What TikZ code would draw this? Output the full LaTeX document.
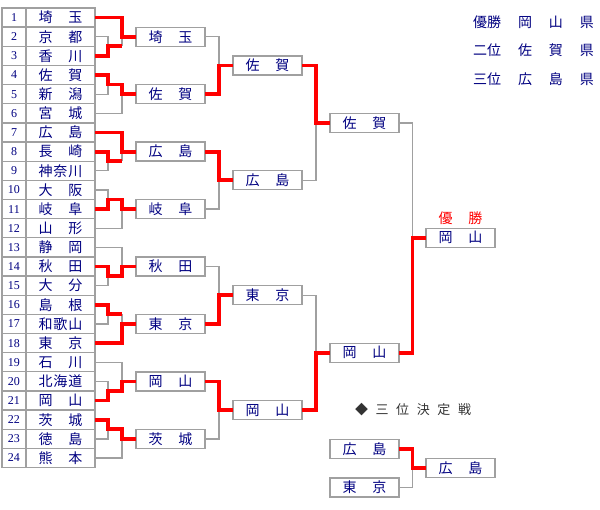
\documentclass[tikz,border=0pt]{standalone}
\usepackage{fontspec}
\setmainfont{Liberation Serif}
\newfontfamily\jpfont{Noto Sans CJK JP}
\usetikzlibrary{calc,positioning}
\definecolor{tnavy}{RGB}{0,0,128}
\definecolor{tgray}{RGB}{160,160,160}
\definecolor{tred}{RGB}{255,0,0}
\definecolor{tdark}{RGB}{51,51,51}
\newcommand{\kname}[1]{\makebox[44pt][s]{#1}}

\begin{document}
\begin{tikzpicture}[x=1pt, y=-1pt,
  cell/.style={draw=tgray, line width=1.3pt, inner sep=0pt, outer sep=0pt, minimum height=19.15pt},
  numcell/.style={cell, minimum width=24pt, font=\fontsize{12}{12}\selectfont, text=tnavy},
  namecell/.style={cell, minimum width=69pt, font=\jpfont\fontsize{14}{14}\selectfont, text=tnavy},
  team/.style={namecell, minimum height=19pt},
  jptext/.style={font=\jpfont\fontsize{14}{14}\selectfont, inner sep=0pt},
  lose/.style={draw=tgray, line width=1.3pt},
  win/.style={draw=tred, line width=3.8pt}]
\useasboundingbox (0,0) rectangle (600,510);

% entry table
\foreach \i/\nm in {1/埼\hfill 玉, 2/京\hfill 都, 3/香\hfill 川, 4/佐\hfill 賀, 5/新\hfill 潟, 6/宮\hfill 城,
  7/広\hfill 島, 8/長\hfill 崎, 9/神\hfill 奈\hfill 川, 10/大\hfill 阪, 11/岐\hfill 阜, 12/山\hfill 形,
  13/静\hfill 岡, 14/秋\hfill 田, 15/大\hfill 分, 16/島\hfill 根, 17/和\hfill 歌\hfill 山, 18/東\hfill 京,
  19/石\hfill 川, 20/北\hfill 海\hfill 道, 21/岡\hfill 山, 22/茨\hfill 城, 23/徳\hfill 島, 24/熊\hfill 本} {
  \node[numcell] (n\i) at (14,{8+19.15*(\i-0.5)}) {\i};
  \node[namecell, right=0pt of n\i] (t\i) {\kname{\nm}};
}

% first round winners
\foreach \k/\r/\nm in {1/2/埼\hfill 玉, 2/5/佐\hfill 賀, 3/8/広\hfill 島, 4/11/岐\hfill 阜,
  5/14/秋\hfill 田, 6/17/東\hfill 京, 7/20/岡\hfill 山, 8/23/茨\hfill 城}
  \node[team] (ra\k) at ($(t\r)+(110,0)$) {\kname{\nm}};

% later rounds
\node[team] (rb1) at ($(ra1)!.5!(ra2)+(97,0)$) {\kname{佐\hfill 賀}};
\node[team] (rb2) at ($(ra3)!.5!(ra4)+(97,0)$) {\kname{広\hfill 島}};
\node[team] (rb3) at ($(ra5)!.5!(ra6)+(97,0)$) {\kname{東\hfill 京}};
\node[team] (rb4) at ($(ra7)!.5!(ra8)+(97,0)$) {\kname{岡\hfill 山}};
\node[team] (rc1) at ($(rb1)!.5!(rb2)+(97,0)$) {\kname{佐\hfill 賀}};
\node[team] (rc2) at ($(rb3)!.5!(rb4)+(97,0)$) {\kname{岡\hfill 山}};
\node[team] (champ) at ($(rc1)!.5!(rc2)+(96,0)$) {\kname{岡\hfill 山}};
\node[jptext, text=tred] (yusho) at ($(champ)+(0,-20)$) {\kname{優\hfill 勝}};

% third place match
\node[jptext, text=tdark, font=\jpfont\fontsize{13}{13}\selectfont] (sanmatch) at (413,410)
  {\makebox[116pt][s]{◆\hfill 三\hfill 位\hfill 決\hfill 定\hfill 戦}};
\node[team] (tp1) at (364.5,449) {\kname{広\hfill 島}};
\node[team] (tp2) at (364.5,487.5) {\kname{東\hfill 京}};
\node[team] (tpw) at ($(tp1)!.5!(tp2)+(96,0)$) {\kname{広\hfill 島}};

% results
\node[jptext, text=tnavy] (res1) at (533.5,22) {\makebox[121pt][s]{優勝\hfill 岡\hfill 山\hfill 県}};
\node[jptext, text=tnavy] (res2) at (533.5,50) {\makebox[121pt][s]{二位\hfill 佐\hfill 賀\hfill 県}};
\node[jptext, text=tnavy] (res3) at (533.5,79) {\makebox[121pt][s]{三位\hfill 広\hfill 島\hfill 県}};

% groups of three: seed, pair top, pair winner, group winner
\foreach \g/\sd/\pa/\pw/\fw [evaluate=\pa as \pb using int(\pa+1)] in
  {1/1/2/3/1, 2/6/4/4/4, 3/7/8/8/7, 4/12/10/11/11, 5/13/14/14/14, 6/18/16/16/18, 7/19/20/21/21, 8/24/22/22/22} {
  \coordinate (p) at ($(t\pa.east)!.5!(t\pb.east)+(13,0)$);
  \coordinate (q) at ($(p)+(14,0)$);
  \draw[lose] (t\pa.east) -| (p) |- (t\pb.east);
  \draw[lose] (p) -- (q);
  \draw[lose] (t\sd.east) -| (q);
  \draw[lose] (ra\g.west) -- (q |- ra\g.west);
  \ifnum\fw=\sd
    \draw[win] (t\pw.east) -| (p) -- (q);
    \draw[win] (t\sd.east) -| (q |- ra\g.west) -- (ra\g.west);
  \else
    \draw[win] (t\pw.east) -| (p) -- (q) |- (ra\g.west);
  \fi
}

% two-box matches
\foreach \i/\j/\o/\w in {ra1/ra2/rb1/ra2, ra3/ra4/rb2/ra3, ra5/ra6/rb3/ra6, ra7/ra8/rb4/ra7,
  rb1/rb2/rc1/rb1, rb3/rb4/rc2/rb4, rc1/rc2/champ/rc2, tp1/tp2/tpw/tp1} {
  \coordinate (m) at ($(\i.east)!.5!(\o.west)$);
  \draw[lose] (\i.east) -| (m |- \j.east) -- (\j.east);
  \draw[lose] (m |- \o.west) -- (\o.west);
  \draw[win] (\w.east) -| (m |- \o.west) -- (\o.west);
}
\end{tikzpicture}
\end{document}
